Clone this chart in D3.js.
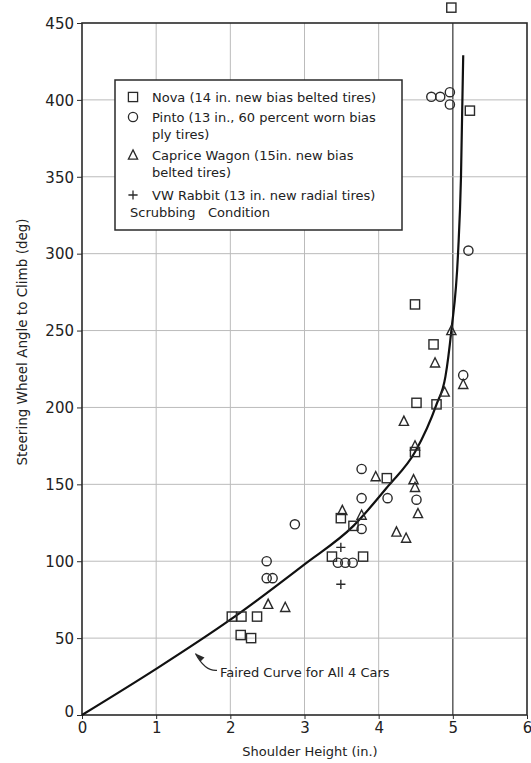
<!DOCTYPE html>
<html lang="en">
<head>
  <meta charset="utf-8">
  <title>Steering Wheel Angle to Climb</title>
  <script src="https://cdn.jsdelivr.net/npm/d3@7"></script>
  <style type="text/css">
    body {margin:0; background:#fff;}
    svg text {font-family:"DejaVu Sans", sans-serif; fill:#222;}
  </style>
</head>
<body>
<svg id="chart" width="531" height="763"></svg>
<script type="text/javascript">

// data: [shoulder height in., wheel angle deg]
var nova = [[4.98,460],[5.23,393],[4.49,267],[4.74,241],[4.51,203],[4.78,202],[4.49,171],
  [4.11,154],[3.49,128],[3.66,123],[3.37,103],[3.79,103],[2.02,64],[2.15,64],[2.36,64],
  [2.14,52],[2.28,50]];
var pinto = [[4.71,402],[4.83,402],[4.96,405],[4.96,397],[5.21,302],[5.14,221],[3.77,160],
  [3.77,141],[4.12,141],[4.51,140],[2.87,124],[3.77,121],[3.45,99],[3.55,99],[3.65,99],
  [2.49,100],[2.49,89],[2.57,89]];
var caprice = [[4.98,250],[4.76,229],[5.14,215],[4.89,210],[4.34,191],[4.49,175],[3.96,155],
  [4.47,153],[4.49,148],[4.53,131],[3.51,133],[3.77,130],[4.24,119],[4.37,115],[2.51,72],
  [2.74,70]];
var rabbit = [[3.49,109],[3.49,85]];
var fairedCurve = [[0,0],[1,30],[2,62],[3,98],[3.66,123],[4.13,149],[4.49,171],[4.78,202],
  [4.9,220],[4.98,250],[5.07,300],[5.11,350],[5.14,429]];

var xTicks = [0,1,2,3,4,5,6];
var yTicks = [0,50,100,150,200,250,300,350,400,450];
var legendLines = [
  {sym:"square", text:["Nova (14 in. new bias belted tires)"]},
  {sym:"circle", text:["Pinto (13 in., 60 percent worn bias", "ply tires)"]},
  {sym:"triangle", text:["Caprice Wagon (15in. new bias", "belted tires)"]},
  {sym:"plus", text:["VW Rabbit (13 in. new radial tires)"]}
];

var svg = d3.select("#chart");
var ink = "#2a2a2a";

var x = d3.scaleLinear().domain([0,6]).range([82,527]);
var y = d3.scaleLinear().domain([0,450]).range([715,23]);

// grid
svg.append("g").selectAll("line").data(xTicks.slice(1,6)).enter().append("line")
  .attr("x1", function(d) { return x(d); }).attr("x2", function(d) { return x(d); })
  .attr("y1", y(0)).attr("y2", y(450))
  .attr("stroke", function(d) { return d === 5 ? "#444" : "#bbb"; })
  .attr("stroke-width", function(d) { return d === 5 ? 1.3 : 1; });
svg.append("g").selectAll("line").data(yTicks.slice(1,9)).enter().append("line")
  .attr("x1", x(0)).attr("x2", x(6))
  .attr("y1", function(d) { return y(d); }).attr("y2", function(d) { return y(d); })
  .attr("stroke", "#bbb").attr("stroke-width", 1);

// frame
svg.append("rect").attr("x", x(0)).attr("y", y(450))
  .attr("width", x(6)-x(0)).attr("height", y(0)-y(450))
  .attr("fill", "none").attr("stroke", ink).attr("stroke-width", 1.6);

// axes
var xAxis = svg.append("g").attr("transform", "translate(0," + y(0) + ")")
  .call(d3.axisBottom(x).tickValues(xTicks).tickFormat(d3.format("d"))
    .tickSize(4).tickPadding(3));
var yAxis = svg.append("g").attr("transform", "translate(" + x(0) + ",0)")
  .call(d3.axisLeft(y).tickValues(yTicks).tickFormat(d3.format("d"))
    .tickSize(5).tickPadding(3));
[xAxis, yAxis].forEach(function(a) {
  a.select(".domain").remove();
  a.selectAll("line").attr("stroke", ink);
  a.selectAll("text").attr("font-size", 15).attr("font-family", "DejaVu Sans")
    .attr("fill", ink);
});
yAxis.selectAll("text").attr("dy", function(d) { return d === 0 ? "0.1em" : "0.35em"; });

svg.append("text").attr("x", 310).attr("y", 756).attr("text-anchor", "middle")
  .attr("font-size", 13).text("Shoulder Height (in.)");
svg.append("text").attr("transform", "translate(27,342) rotate(-90)")
  .attr("text-anchor", "middle").attr("font-size", 13.5)
  .text("Steering Wheel Angle to Climb (deg)");

// faired curve
var line = d3.line().x(function(d) { return x(d[0]); }).y(function(d) { return y(d[1]); })
  .curve(d3.curveMonotoneX);
svg.append("path").datum(fairedCurve).attr("d", line)
  .attr("fill", "none").attr("stroke", "#111").attr("stroke-width", 2.2);

// markers
function drawMarker(g, type, cx, cy) {
  var s = 4.6;
  if (type === "square") {
    g.append("rect").attr("x", cx-s).attr("y", cy-s).attr("width", 2*s).attr("height", 2*s);
  } else if (type === "circle") {
    g.append("circle").attr("cx", cx).attr("cy", cy).attr("r", s);
  } else if (type === "triangle") {
    g.append("path").attr("d", "M" + cx + "," + (cy-s-0.5) + "L" + (cx+s) + "," + (cy+s-0.5) +
      "L" + (cx-s) + "," + (cy+s-0.5) + "Z");
  } else {
    g.append("path").attr("d", "M" + (cx-s) + "," + cy + "H" + (cx+s) +
      "M" + cx + "," + (cy-s) + "V" + (cy+s));
  }
}

var marks = svg.append("g").attr("fill", "none").attr("stroke", ink).attr("stroke-width", 1.4);
[[nova,"square"],[pinto,"circle"],[caprice,"triangle"],[rabbit,"plus"]].forEach(function(s) {
  s[0].forEach(function(d) { drawMarker(marks, s[1], x(d[0]), y(d[1])); });
});

// legend
var lg = svg.append("g");
lg.append("rect").attr("x", 115).attr("y", 80).attr("width", 287).attr("height", 150)
  .attr("fill", "#fff").attr("stroke", ink).attr("stroke-width", 1.5);
var rowY = [97, 117, 155, 195];
var lgMarks = lg.append("g").attr("fill", "none").attr("stroke", ink).attr("stroke-width", 1.3);
legendLines.forEach(function(d, i) {
  drawMarker(lgMarks, d.sym, 133, rowY[i]);
  d.text.forEach(function(t, j) {
    lg.append("text").attr("x", 152).attr("y", rowY[i] + j*17).attr("dy", "0.35em")
      .attr("font-family", "Liberation Sans").attr("font-size", 13)
      .text(t);
  });
});
lg.append("text").attr("x", 130).attr("y", 212).attr("dy", "0.35em")
  .attr("font-family", "Liberation Sans").attr("font-size", 13)
  .attr("xml:space", "preserve").text("Scrubbing   Condition");

// annotation
var tail = [x(1.82), y(29)], tip = [x(1.53), y(40)];
svg.append("path")
  .attr("d", "M" + tail[0] + "," + tail[1] + "Q" + (tail[0]-12) + "," + (tail[1]+1) + " " + tip[0] + "," + tip[1])
  .attr("fill", "none").attr("stroke", ink).attr("stroke-width", 1.3);
svg.append("path")
  .attr("d", "M" + tip[0] + "," + tip[1] + "l9,4l-4,4Z").attr("fill", ink);
svg.append("text").attr("x", 220).attr("y", 672).attr("dy", "0.35em")
  .attr("font-family", "Liberation Sans").attr("font-size", 13)
  .text("Faired Curve for All 4 Cars");

</script>
</body>
</html>
